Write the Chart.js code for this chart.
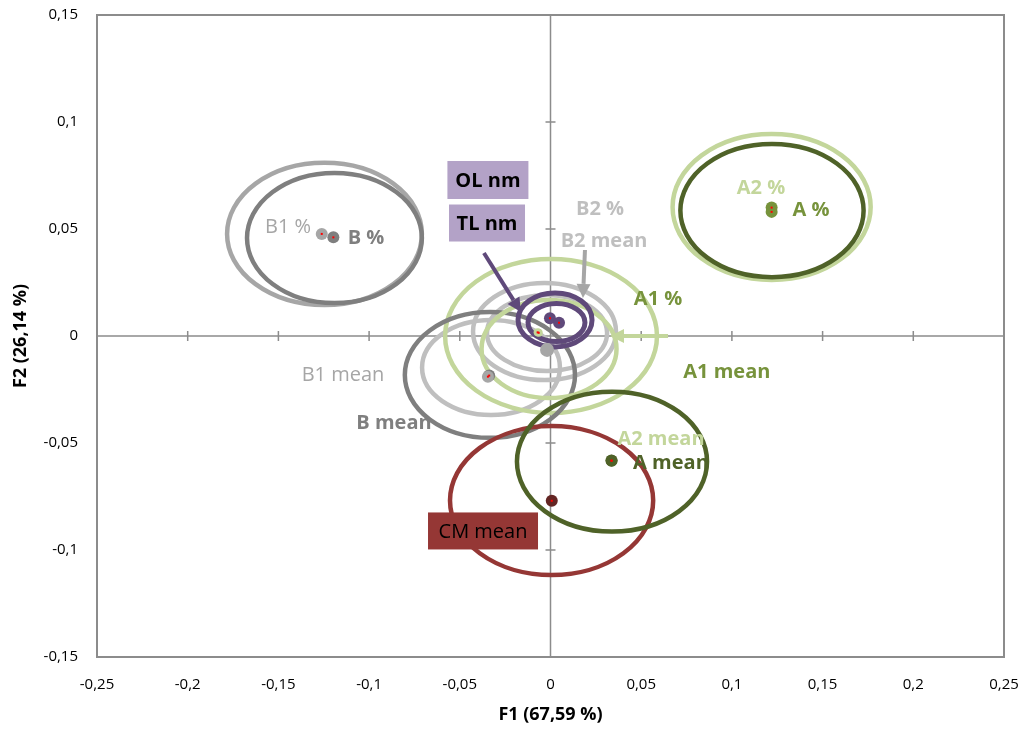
<!DOCTYPE html>
<html lang="en">
<head>
<meta charset="UTF-8">
<title>F1 / F2</title>
<script src="https://cdn.jsdelivr.net/npm/chart.js@4.4.0/dist/chart.umd.min.js"></script>
<style>
  html, body { margin: 0; padding: 0; background: #fff; }
</style>
</head>
<body>
<canvas id="myChart" width="1024" height="731"></canvas>
<script>
// group centroids on the first two factors
const pointNames = ['B1 %', 'B %', 'A2 %', 'A %', 'B2 %', 'B2 mean', 'A1 %', 'A1 mean', 'B mean', 'B1 mean', 'A2 mean', 'A mean', 'CM mean', 'OL nm', 'TL nm'];
const pointX = [-0.1261, -0.1197, 0.1219, 0.1219, -0.0020, -0.0019, -0.0071, -0.0065, -0.0338, -0.0345, 0.0336, 0.0337, 0.0007, -0.0003, 0.0047];
const pointY = [0.0477, 0.0461, 0.0600, 0.0580, -0.0062, -0.0065, 0.0017, 0.0015, -0.0185, -0.0190, -0.0582, -0.0583, -0.0770, 0.0083, 0.0062];
const pointColors = ['#A6A6A6', '#7F7F7F', '#77933C', '#77933C', '#BFBFBF', '#A6A6A6', '#C3D69B', '#C3D69B', '#7F7F7F', '#A6A6A6', '#4F6228', '#4F6228', '#632523', '#5F497A', '#5F497A'];

// confidence ellipses: centre and semi-axes in F1 / F2 units
const ellipseNames = ['B1 %', 'B %', 'A2 %', 'A %', 'B1 mean', 'B2 %', 'B2 mean', 'A1 %', 'B mean', 'A1 mean', 'CM mean', 'A mean', 'OL nm', 'TL nm'];
const ellipseX = [-0.1246, -0.1191, 0.1219, 0.1221, -0.0328, -0.0033, -0.0019, 0.0003, -0.0334, -0.0008, 0.0006, 0.0339, 0.0025, 0.0033];
const ellipseY = [0.0477, 0.0458, 0.0603, 0.0586, -0.0147, 0.0021, 0.0014, 0.0000, -0.0182, -0.0061, -0.0769, -0.0587, 0.0075, 0.0063];
const ellipseRx = [0.0537, 0.0482, 0.0546, 0.0505, 0.0380, 0.0394, 0.0331, 0.0584, 0.0469, 0.0372, 0.0560, 0.0524, 0.0204, 0.0157];
const ellipseRy = [0.0332, 0.0304, 0.0341, 0.0311, 0.0222, 0.0227, 0.0178, 0.0360, 0.0294, 0.0229, 0.0348, 0.0327, 0.0126, 0.0089];
const ellipseColors = ['#A6A6A6', '#7F7F7F', '#C3D69B', '#4F6228', '#BFBFBF', '#BFBFBF', '#BFBFBF', '#C3D69B', '#7F7F7F', '#C3D69B', '#953735', '#4F6228', '#5F497A', '#5F497A'];

// axis ticks
const xMin = -0.25, xMax = 0.25, xStep = 0.05;
const yMin = -0.15, yMax = 0.15, yStep = 0.05;
const xTitle = 'F1 (67,59 %)';
const yTitle = 'F2 (26,14 %)';

// text labels placed in data units
const labels = [
  { text: 'B1 %', x: -0.1447, y: 0.0514, color: '#A6A6A6', bold: false },
  { text: 'B %', x: -0.1017, y: 0.0463, color: '#7F7F7F', bold: true },
  { text: 'A2 %', x: 0.1160, y: 0.0696, color: '#C3D69B', bold: true },
  { text: 'A %', x: 0.1436, y: 0.0593, color: '#77933C', bold: true },
  { text: 'B2 %', x: 0.0273, y: 0.0598, color: '#BFBFBF', bold: true },
  { text: 'B2 mean', x: 0.0295, y: 0.0449, color: '#BFBFBF', bold: true },
  { text: 'A1 %', x: 0.0593, y: 0.0178, color: '#77933C', bold: true },
  { text: 'A1 mean', x: 0.0972, y: -0.0164, color: '#77933C', bold: true },
  { text: 'B1 mean', x: -0.1144, y: -0.0178, color: '#A6A6A6', bold: false },
  { text: 'B mean', x: -0.0863, y: -0.0402, color: '#7F7F7F', bold: true },
  { text: 'A2 mean', x: 0.0609, y: -0.0477, color: '#C3D69B', bold: true },
  { text: 'A mean', x: 0.0664, y: -0.0589, color: '#4F6228', bold: true },
  { text: 'CM mean', x: -0.0372, y: -0.0911, color: '#000', bold: false, box: '#953735', w: 110, h: 37 },
  { text: 'OL nm', x: -0.0345, y: 0.0729, color: '#000', bold: true, box: '#B3A2C7', w: 81, h: 38 },
  { text: 'TL nm', x: -0.0350, y: 0.0528, color: '#000', bold: true, box: '#B3A2C7', w: 76, h: 37 }
];

const arrows = [
  { x1: -0.0367, y1: 0.0388, x2: -0.0163, y2: 0.0112, color: '#5F497A' },
  { x1: 0.0190, y1: 0.0402, x2: 0.0179, y2: 0.0178, color: '#A6A6A6' },
  { x1: 0.0648, y1: 0.0000, x2: 0.0328, y2: 0.0000, color: '#C3D69B' }
];

const FONT = '"Open Sans", "Liberation Sans", sans-serif';

function fmt(v) {
  const r = Math.round(v * 100) / 100;
  return String(r).replace('.', ',');
}

const overlay = {
  id: 'overlay',
  beforeDatasetsDraw(chart) {
    const { ctx, chartArea: a, scales: { x, y } } = chart;
    const x0 = x.getPixelForValue(0), y0 = y.getPixelForValue(0);
    ctx.save();
    // frame
    ctx.strokeStyle = '#8C8C8C';
    ctx.lineWidth = 2;
    ctx.strokeRect(a.left, a.top, a.width, a.height);
    // zero axes with cross ticks
    ctx.lineWidth = 1.5;
    ctx.beginPath();
    ctx.moveTo(a.left, y0); ctx.lineTo(a.right, y0);
    ctx.moveTo(x0, a.top); ctx.lineTo(x0, a.bottom);
    x.ticks.forEach(t => {
      if (Math.abs(t.value) < 1e-9 || t.value <= xMin + 1e-9 || t.value >= xMax - 1e-9) return;
      const px = x.getPixelForValue(t.value);
      ctx.moveTo(px, y0 - 5); ctx.lineTo(px, y0 + 5);
    });
    y.ticks.forEach(t => {
      if (Math.abs(t.value) < 1e-9 || t.value <= yMin + 1e-9 || t.value >= yMax - 1e-9) return;
      const py = y.getPixelForValue(t.value);
      ctx.moveTo(x0 - 5, py); ctx.lineTo(x0 + 5, py);
    });
    ctx.stroke();

    // ellipses
    ctx.beginPath();
    ctx.rect(a.left, a.top, a.width, a.height);
    ctx.clip();
    ellipseNames.forEach((n, i) => {
      const cx = x.getPixelForValue(ellipseX[i]);
      const cy = y.getPixelForValue(ellipseY[i]);
      const rx = Math.abs(x.getPixelForValue(ellipseX[i] + ellipseRx[i]) - cx);
      const ry = Math.abs(y.getPixelForValue(ellipseY[i] + ellipseRy[i]) - cy);
      ctx.beginPath();
      ctx.ellipse(cx, cy, rx, ry, 0, 0, Math.PI * 2);
      ctx.strokeStyle = ellipseColors[i];
      ctx.lineWidth = n.endsWith('nm') ? 5 : 4.5;
      ctx.stroke();
    });
    ctx.restore();
  },
  afterDatasetsDraw(chart) {
    const { ctx, scales: { x, y } } = chart;
    ctx.save();

    // small red markers at the centroids
    const meta = chart.getDatasetMeta(0);
    ctx.fillStyle = '#FF0000';
    meta.data.forEach((el, i) => {
      if (pointNames[i] === 'B2 mean' || pointNames[i] === 'B2 %') return;
      ctx.fillRect(el.x - 1, el.y - 1, 2, 2);
    });

    // arrows
    arrows.forEach(ar => {
      const ax = x.getPixelForValue(ar.x1), ay = y.getPixelForValue(ar.y1);
      const bx = x.getPixelForValue(ar.x2), by = y.getPixelForValue(ar.y2);
      const ang = Math.atan2(by - ay, bx - ax);
      const head = 14, half = 7;
      const hx = bx - head * Math.cos(ang), hy = by - head * Math.sin(ang);
      ctx.strokeStyle = ar.color;
      ctx.fillStyle = ar.color;
      ctx.lineWidth = 4;
      ctx.beginPath();
      ctx.moveTo(ax, ay); ctx.lineTo(hx, hy);
      ctx.stroke();
      ctx.beginPath();
      ctx.moveTo(bx, by);
      ctx.lineTo(hx + half * Math.sin(ang), hy - half * Math.cos(ang));
      ctx.lineTo(hx - half * Math.sin(ang), hy + half * Math.cos(ang));
      ctx.closePath();
      ctx.fill();
    });

    // labels
    ctx.textAlign = 'center';
    ctx.textBaseline = 'middle';
    labels.forEach(l => {
      const px = x.getPixelForValue(l.x), py = y.getPixelForValue(l.y);
      if (l.box) {
        ctx.fillStyle = l.box;
        ctx.fillRect(px - l.w / 2, py - l.h / 2, l.w, l.h);
      }
      ctx.font = (l.bold ? 'bold ' : '') + '20px ' + FONT;
      ctx.fillStyle = l.color;
      ctx.fillText(l.text, px, py + 1);
    });
    ctx.restore();
  }
};

const ctx = document.getElementById('myChart').getContext('2d');
const myChart = new Chart(ctx, {
  type: 'scatter',
  data: {
    datasets: [{
      label: 'centroids',
      data: pointNames.map((n, i) => ({ x: pointX[i], y: pointY[i] })),
      backgroundColor: pointColors,
      borderColor: pointColors,
      borderWidth: 0,
      pointRadius: pointNames.map(n => (n === 'B2 mean' ? 7 : (n === 'A1 %' || n === 'A1 mean' ? 4 : 6)))
    }]
  },
  options: {
    responsive: false,
    animation: false,
    layout: { padding: { left: 0, top: 15, right: 20, bottom: 0 } },
    plugins: { legend: { display: false }, tooltip: { enabled: false } },
    scales: {
      x: {
        type: 'linear',
        min: xMin, max: xMax,
        afterFit: s => { s.height = 74; s.paddingLeft = 0; s.paddingRight = 0; },
        grid: { display: false },
        border: { display: false },
        ticks: { stepSize: xStep, padding: 11, color: '#000', font: { family: FONT, size: 15 }, callback: v => fmt(v), maxRotation: 0 },
        title: { display: true, text: xTitle, color: '#000', font: { family: FONT, size: 18, weight: 'bold' }, padding: { top: 0, bottom: 5 } }
      },
      y: {
        type: 'linear',
        min: yMin, max: yMax,
        afterFit: s => { s.width = 97; s.paddingTop = 0; s.paddingBottom = 0; },
        grid: { display: false },
        border: { display: false },
        ticks: { stepSize: yStep, padding: 11, color: '#000', font: { family: FONT, size: 15 }, callback: v => fmt(v) },
        title: { display: true, text: yTitle, color: '#000', font: { family: FONT, size: 18, weight: 'bold' }, padding: { top: 10, bottom: 0 } }
      }
    }
  },
  plugins: [overlay]
});
</script>
</body>
</html>
